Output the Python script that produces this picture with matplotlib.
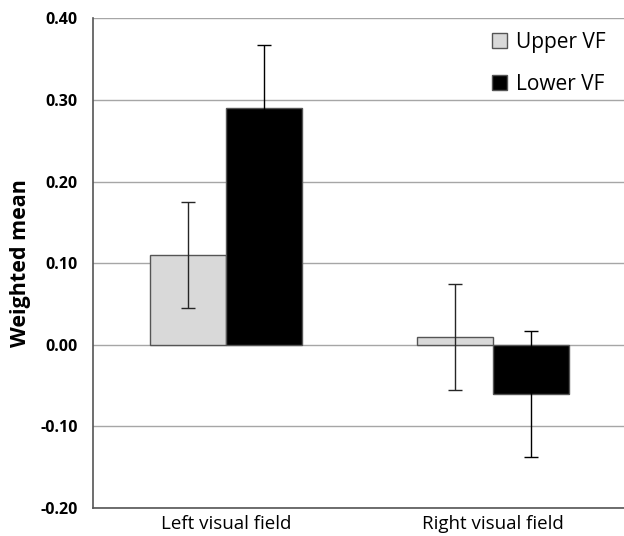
import numpy as np
import matplotlib.pyplot as plt

categories = ['Left visual field', 'Right visual field']
upper_vf = [0.11, 0.01]
lower_vf = [0.29, -0.06]
upper_err = [0.065, 0.065]
lower_err = [0.077, 0.077]
yticks = [-0.20, -0.10, 0.00, 0.10, 0.20, 0.30, 0.40]

plt.rcParams['font.family'] = ['Open Sans', 'DejaVu Sans']

fig = plt.figure(figsize=(6.24, 5.36), dpi=100)
ax = fig.add_axes([0.149, 0.052, 0.851, 0.914])

x = np.arange(len(categories))
w = 0.285
ax.bar(x - w / 2, upper_vf, w, color='#d9d9d9', edgecolor='#555555', linewidth=1,
       label='Upper VF', zorder=3)
ax.bar(x + w / 2, lower_vf, w, color='black', edgecolor='#555555', linewidth=1,
       label='Lower VF', zorder=3)
ax.errorbar(x - w / 2, upper_vf, yerr=upper_err, fmt='none', ecolor='#262626',
            elinewidth=1, capsize=5, capthick=1, zorder=4)
ax.errorbar(x + w / 2, lower_vf, yerr=lower_err, fmt='none', ecolor='black',
            elinewidth=1, capsize=5, capthick=1, zorder=4)

ax.set_xlim(-0.5, 1.49)
ax.set_ylim(-0.2, 0.4)
ax.set_yticks(yticks)
ax.set_yticklabels(['%.2f' % v for v in yticks], fontweight='bold', fontsize=11.5)
ax.set_xticks(x)
ax.set_xticklabels(categories, fontsize=13.5)
ax.tick_params(axis='y', length=0, pad=11)
ax.tick_params(axis='x', length=0, pad=5)
ax.yaxis.grid(True, color='#a6a6a6', linewidth=1, zorder=0)
ax.set_axisbelow(True)
for s in ['top', 'right']:
    ax.spines[s].set_visible(False)
ax.spines['left'].set_color('#555555')
ax.spines['bottom'].set_color('#555555')
ax.spines['left'].set_linewidth(1.2)
ax.spines['bottom'].set_linewidth(1.2)

ax.set_ylabel('Weighted mean', fontsize=15.5, fontweight='bold')
ax.yaxis.set_label_coords(-0.116, 0.5)

ax.legend(loc='upper right', frameon=False, fontsize=15, handlelength=0.75,
          handleheight=0.75, handletextpad=0.4, labelspacing=1.0,
          bbox_to_anchor=(1.0, 1.01))

fig.savefig('out.png', dpi=100)
